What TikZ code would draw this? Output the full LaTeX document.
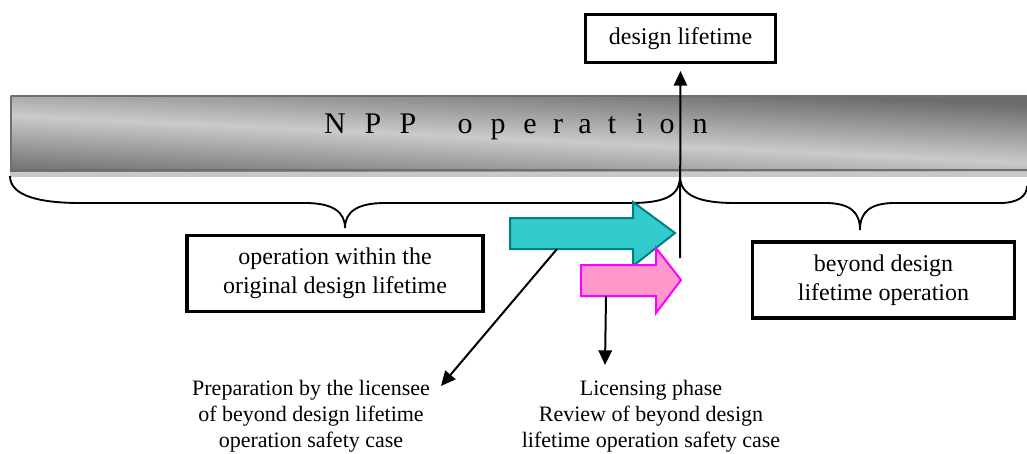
\documentclass[tikz,border=0pt]{standalone}
\usepackage{fontspec}
\setmainfont{Liberation Serif}
\usetikzlibrary{arrows.meta}
\definecolor{tealfill}{HTML}{33CCCC}
\definecolor{tealline}{HTML}{008080}
\definecolor{pinkfill}{HTML}{FF99CC}
\definecolor{magline}{HTML}{FF00FF}
\definecolor{barborder}{HTML}{6E6E6E}
\definecolor{gDark}{HTML}{6C6C6C}
\definecolor{gLight}{HTML}{CACACA}
\definecolor{strip}{HTML}{C8C8C8}
\begin{document}
\begin{tikzpicture}[x=0.75pt,y=-0.75pt,
  box/.style={draw=black, line width=2.3pt, inner sep=0pt, align=center,
    font=\fontsize{18}{22}\selectfont},
  lbl/.style={align=center, inner sep=0pt, font=\fontsize{16.5}{19.5}\selectfont},
  brace/.style={draw=black, line width=1.4pt},
  conn/.style={draw=black, line width=1.5pt, -{Triangle[length=11pt,width=10pt]}},
  npp/.style={anchor=base, inner sep=0pt, font=\fontsize{22.5}{26}\selectfont}]
\useasboundingbox (0,0) rectangle (1027,453);
% bar
\fill[strip] (10,171) rectangle (1027,177);
\begin{scope}
  \clip (10,95) rectangle (1027,171);
  \foreach \d in {-72,-70,...,62} {
    \pgfmathsetmacro{\p}{max(0,100-abs(\d)*100/58)}
    \fill[gLight!\p!gDark] (10,115+\d) -- (1027,162+\d) -- (1027,164.6+\d) -- (10,117.6+\d) -- cycle;
  }
\end{scope}
\draw[barborder, line width=2.2pt] (11,96) -- (1027,96);
\draw[barborder, line width=2.2pt] (11,96) -- (11,170) -- (1027,170);
% letters
\foreach \ch/\xx [count=\i] in {N/335,P/373,P/408,o/465,p/498,e/530,r/558,a/585,t/612,i/640,o/667,n/700}
  \node[npp] (l\i) at (\xx,133) {\ch};
% boxes
\node[box, minimum width=143pt, minimum height=36.5pt] (dl) at (680.5,38.5) {design lifetime};
\node[box, minimum width=222pt, minimum height=57.5pt] (within) at (335,273.5) {operation within the\\original design lifetime};
\node[box, minimum width=197pt, minimum height=57pt] (beyond) at (883.5,280) {beyond design\\lifetime operation};
% braces
\coordinate (bl) at (10,176);
\coordinate (bm) at (680,176);
\coordinate (br) at (1027,186);
\coordinate (tipL) at (345,228);
\coordinate (tipR) at (860,230);
\draw[brace] (bl) .. controls (10,196) and (40,203) .. (80,203) -- (305,203)
  .. controls (333,203) and (345,212) .. (tipL)
  .. controls (345,212) and (357,203) .. (385,203) -- (630,203)
  .. controls (665,203) and (680,196) .. (bm);
\draw[brace] (bm) .. controls (680,196) and (700,203) .. (735,203) -- (825,203)
  .. controls (850,203) and (860,212) .. (tipR)
  .. controls (860,212) and (870,203) .. (895,203) -- (1000,203)
  .. controls (1018,203) and (1027,196) .. (br);
% teal arrow
\draw[fill=tealfill, draw=tealline, line width=1.5pt, line join=miter]
  (510,218) -- (633,218) -- (633,202) -- (675,233) -- (633,266) -- (633,249) -- (510,249) -- cycle;
\coordinate (tealfoot) at (557,249);
% pink arrow
\draw[fill=pinkfill, draw=magline, line width=1.5pt, line join=miter]
  (581,265) -- (656,265) -- (656,248) -- (681,280) -- (656,313) -- (656,296) -- (581,296) -- cycle;
\coordinate (pinkfoot) at (606,296);
% vertical arrow
\coordinate (vbot) at (680,258);
\draw[conn, shorten >=5pt] (vbot) -- (dl.south);
% bottom labels
\node[lbl] (prep) at (311,416) {Preparation by the licensee\\of beyond design lifetime\\operation safety case};
\node[lbl] (lic) at (651,416) {Licensing phase\\Review of beyond design\\lifetime operation safety case};
\coordinate (prepin) at (441,386);
\coordinate (licin) at (605,365);
\draw[conn] (tealfoot) -- (prepin);
\draw[conn] (pinkfoot) -- (licin);
\end{tikzpicture}
\end{document}
